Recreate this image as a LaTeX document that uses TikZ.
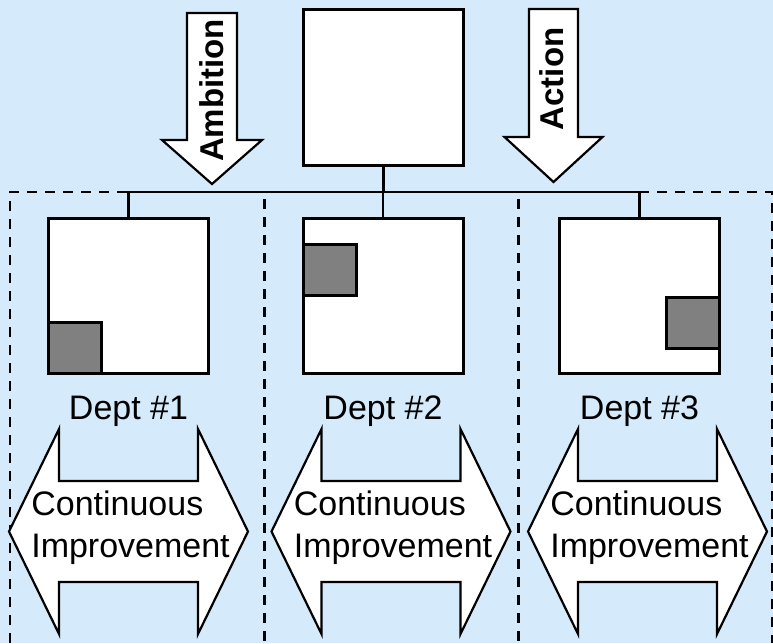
\documentclass[tikz,border=0pt]{standalone}
\usepackage{fontspec}
\setmainfont{Liberation Sans}
\definecolor{bgblue}{RGB}{213,235,251}
\tikzset{
    BX/.style ={rectangle,minimum width = 160pt, minimum height = 155pt, draw, fill=white, line width=3pt, inner sep=0pt},
    GR/.style ={rectangle,minimum width = 53pt, minimum height = 51pt, draw, fill=gray, line width=3pt, inner sep=0pt},
    DA/.style ={dash pattern=on 10pt off 8pt, line width=2.2pt},
    BA/.style ={draw, fill=white, line width=2.2pt, line join=miter},
    LB/.style ={font=\fontsize{34}{42}\selectfont},
    VT/.style ={font=\fontsize{33}{40}\selectfont\bfseries, rotate=90}}
\begin{document}
\begin{tikzpicture}[x=1pt,y=-1pt]
        \useasboundingbox (0,0) rectangle (773,643);
        \fill[bgblue] (0,0) rectangle (773,643);
        % dashed department panels
        \draw[DA] (10,643) -- (10,192) -- (772,192) -- (772,643);
        \draw[DA, line width=3.5pt] (264.5,199) -- (264.5,643);
        \draw[DA, line width=3.5pt] (518.5,199) -- (518.5,643);
        % boxes
        \node[BX, minimum height=156pt] (top) at (383.5,87.5) {};
        \node[BX] (d1) at (128.5,296) {};
        \node[BX] (d2) at (383,296) {};
        \node[BX] (d3) at (639.5,296) {};
        \node[GR, anchor=south west] (g1) at (d1.south west) {};
        \node[GR, anchor=north west] (g2) at ([yshift=-26pt]d2.north west) {};
        \node[GR, anchor=north east] (g3) at ([yshift=-79pt]d3.north east) {};
        \coordinate (bus) at (383.5,192);
        \draw[line width=2.5pt] (top.south) -- (bus);
        \foreach \d in {d1,d2,d3}{
        \draw[line width=2.5pt] (bus) -| (\d.north);}
        \node[LB, anchor=base] (l1) at ([yshift=-44pt]d1.south) {Dept \#1};
        \node[LB, anchor=base] (l2) at ([yshift=-44pt]d2.south) {Dept \#2};
        \node[LB, anchor=base] (l3) at ([yshift=-44pt]d3.south) {Dept \#3};
        % down arrows
        \foreach \cx/\ty/\by/\py/\w in {212/13/140/184/25, 553.5/9/137/182/24.5}{
        \draw[BA] (\cx-\w,\ty) -- (\cx+\w,\ty) -- (\cx+\w,\by) -- (\cx+2*\w,\by) -- (\cx,\py)
            -- (\cx-2*\w,\by) -- (\cx-\w,\by) -- cycle;}
        \node[VT] (amb) at (212,90.5) {Ambition};
        \node[VT] (act) at (552,79) {Action};
        % double arrows
        \foreach \cx/\n in {128.5/1,391/2,647.5/3}{
        \draw[BA] (\cx-119.5,531.5) -- (\cx-69.5,429) -- (\cx-69.5,481) -- (\cx+69.5,481)
            -- (\cx+69.5,429) -- (\cx+119.5,531.5) -- (\cx+69.5,634) -- (\cx+69.5,582)
            -- (\cx-69.5,582) -- (\cx-69.5,634) -- cycle;
        \node[LB, align=left, inner sep=0pt] (ci\n) at (\cx+2,528) {Continuous\\Improvement};}
    \end{tikzpicture}
\end{document}
